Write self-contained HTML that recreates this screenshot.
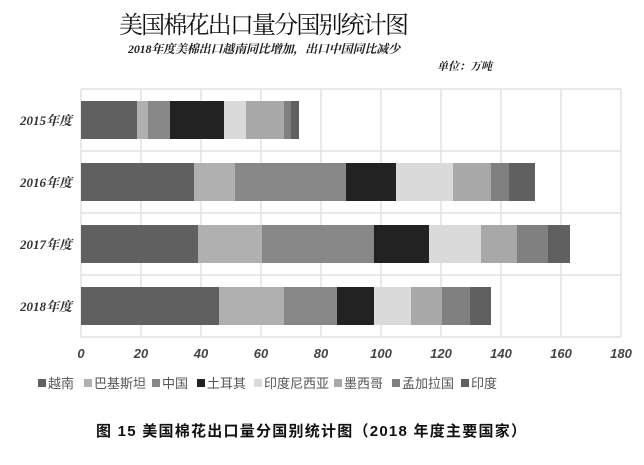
<!DOCTYPE html>
<html><head><meta charset="utf-8"><style>
html,body{margin:0;padding:0;background:#fff;}
svg{display:block;}
</style></head><body>
<svg width="644" height="465" xmlns="http://www.w3.org/2000/svg" font-family="'Liberation Serif','Noto Serif CJK SC',serif">
<rect width="644" height="465" fill="#fff"/>
<text x="264" y="33" font-size="24" text-anchor="middle" fill="#111" font-family="'Liberation Serif','Noto Serif CJK SC',serif" textLength="290">美国棉花出口量分国别统计图</text>
<text x="264" y="53" font-size="12" font-weight="bold" font-style="italic" text-anchor="middle" fill="#222" textLength="272">2018年度美棉出口越南同比增加，出口中国同比减少</text>
<text x="492" y="70" font-size="11" font-weight="bold" font-style="italic" text-anchor="end" fill="#222">单位：万吨</text>
<g stroke="#e2e2e2" stroke-width="1.5">
<line x1="81" y1="89" x2="621" y2="89"/>
<line x1="81" y1="151" x2="621" y2="151"/>
<line x1="81" y1="213" x2="621" y2="213"/>
<line x1="81" y1="275" x2="621" y2="275"/>
<line x1="81" y1="337" x2="621" y2="337"/>
<line x1="81" y1="89" x2="81" y2="337"/>
<line x1="141" y1="89" x2="141" y2="337"/>
<line x1="201" y1="89" x2="201" y2="337"/>
<line x1="261" y1="89" x2="261" y2="337"/>
<line x1="321" y1="89" x2="321" y2="337"/>
<line x1="381" y1="89" x2="381" y2="337"/>
<line x1="441" y1="89" x2="441" y2="337"/>
<line x1="501" y1="89" x2="501" y2="337"/>
<line x1="561" y1="89" x2="561" y2="337"/>
<line x1="621" y1="89" x2="621" y2="337"/>
</g>
<g>
<!-- 2015 -->
<rect x="81" y="101" width="56" height="38" fill="#606060"/>
<rect x="137" y="101" width="11" height="38" fill="#b0b0b0"/>
<rect x="148" y="101" width="22" height="38" fill="#888"/>
<rect x="170" y="101" width="54" height="38" fill="#222"/>
<rect x="224" y="101" width="22" height="38" fill="#dadada"/>
<rect x="246" y="101" width="38" height="38" fill="#a8a8a8"/>
<rect x="284" y="101" width="7" height="38" fill="#808080"/>
<rect x="291" y="101" width="8" height="38" fill="#606060"/>
<!-- 2016 -->
<rect x="81" y="163" width="113" height="38" fill="#606060"/>
<rect x="194" y="163" width="41" height="38" fill="#b0b0b0"/>
<rect x="235" y="163" width="111" height="38" fill="#888"/>
<rect x="346" y="163" width="50" height="38" fill="#222"/>
<rect x="396" y="163" width="57" height="38" fill="#dadada"/>
<rect x="453" y="163" width="38" height="38" fill="#a8a8a8"/>
<rect x="491" y="163" width="18" height="38" fill="#808080"/>
<rect x="509" y="163" width="26" height="38" fill="#606060"/>
<!-- 2017 -->
<rect x="81" y="225" width="117" height="38" fill="#606060"/>
<rect x="198" y="225" width="64" height="38" fill="#b0b0b0"/>
<rect x="262" y="225" width="112" height="38" fill="#888"/>
<rect x="374" y="225" width="55" height="38" fill="#222"/>
<rect x="429" y="225" width="52" height="38" fill="#dadada"/>
<rect x="481" y="225" width="36" height="38" fill="#a8a8a8"/>
<rect x="517" y="225" width="31" height="38" fill="#808080"/>
<rect x="548" y="225" width="22" height="38" fill="#606060"/>
<!-- 2018 -->
<rect x="81" y="287" width="138" height="38" fill="#606060"/>
<rect x="219" y="287" width="65" height="38" fill="#b0b0b0"/>
<rect x="284" y="287" width="53" height="38" fill="#888"/>
<rect x="337" y="287" width="37" height="38" fill="#222"/>
<rect x="374" y="287" width="37" height="38" fill="#dadada"/>
<rect x="411" y="287" width="31" height="38" fill="#a8a8a8"/>
<rect x="442" y="287" width="28" height="38" fill="#808080"/>
<rect x="470" y="287" width="21" height="38" fill="#606060"/>
</g>
<g font-size="13" font-weight="bold" font-style="italic" fill="#333" text-anchor="end">
<text x="72" y="125">2015年度</text>
<text x="72" y="187">2016年度</text>
<text x="72" y="249">2017年度</text>
<text x="72" y="311">2018年度</text>
</g>
<g font-size="13" font-weight="bold" font-style="italic" fill="#444" text-anchor="middle" font-family="'Liberation Sans',sans-serif">
<text x="81" y="358">0</text><text x="141" y="358">20</text><text x="201" y="358">40</text>
<text x="261" y="358">60</text><text x="321" y="358">80</text><text x="381" y="358">100</text>
<text x="441" y="358">120</text><text x="501" y="358">140</text><text x="561" y="358">160</text>
<text x="621" y="358">180</text>
</g>
<g font-size="13" fill="#555" font-family="'Liberation Sans','Noto Sans CJK SC',sans-serif">
<rect x="38" y="379" width="8" height="8" fill="#606060"/><text x="48" y="388">越南</text>
<rect x="84" y="379" width="8" height="8" fill="#b0b0b0"/><text x="94" y="388">巴基斯坦</text>
<rect x="152" y="379" width="8" height="8" fill="#888"/><text x="162" y="388">中国</text>
<rect x="197" y="379" width="8" height="8" fill="#222"/><text x="207" y="388">土耳其</text>
<rect x="254" y="379" width="8" height="8" fill="#dadada"/><text x="264" y="388">印度尼西亚</text>
<rect x="334" y="379" width="8" height="8" fill="#a8a8a8"/><text x="344" y="388">墨西哥</text>
<rect x="392" y="379" width="8" height="8" fill="#808080"/><text x="402" y="388">孟加拉国</text>
<rect x="461" y="379" width="8" height="8" fill="#606060"/><text x="471" y="388">印度</text>
</g>
<text x="311" y="436" font-size="15" font-weight="bold" text-anchor="middle" fill="#111" font-family="'Liberation Sans','Noto Sans CJK SC',sans-serif" textLength="430">图 15  美国棉花出口量分国别统计图（2018 年度主要国家）</text>
</svg>
</body></html>
